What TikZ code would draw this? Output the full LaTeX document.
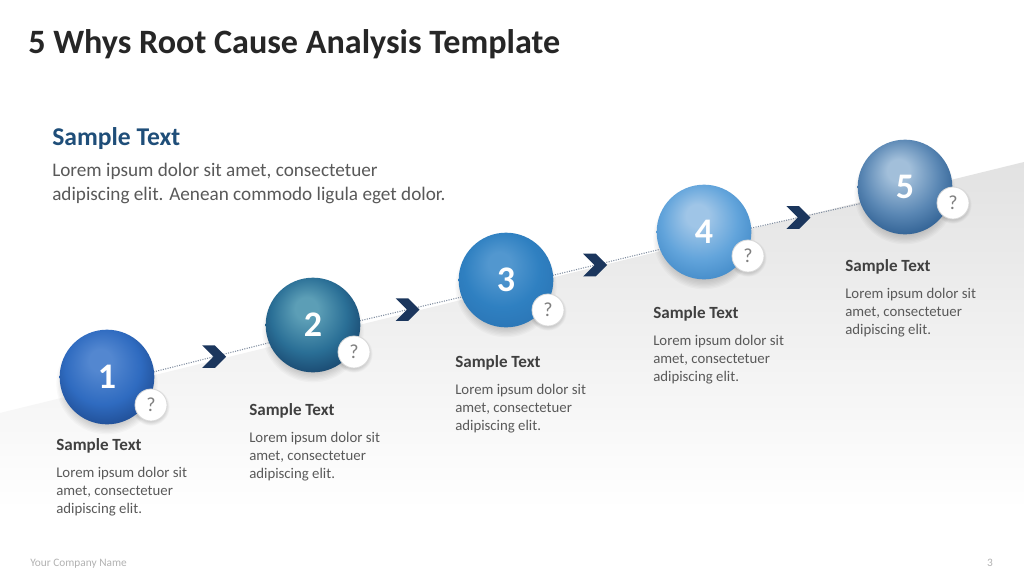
\documentclass[tikz,border=0pt]{standalone}
\usepackage{fontspec}
\setmainfont{Carlito}
\usetikzlibrary{positioning, shapes.symbols, backgrounds}

\definecolor{titlecol}{HTML}{262626}
\definecolor{navy}{HTML}{1F4E79}
\definecolor{txtgray}{HTML}{595959}
\definecolor{headgray}{HTML}{404040}
\definecolor{chevcol}{HTML}{1B365D}
\definecolor{linecol}{HTML}{7F8C9F}
\definecolor{bandgray}{HTML}{E2E2E2}
\definecolor{qgray}{HTML}{7F7F7F}
% ball colours: highlight, middle, rim
\definecolor{bhi1}{HTML}{5387D0}\definecolor{bmid1}{HTML}{2F6BC0}\definecolor{blo1}{HTML}{1A4283}
\definecolor{bhi2}{HTML}{5C9EB6}\definecolor{bmid2}{HTML}{2A6F96}\definecolor{blo2}{HTML}{133860}
\definecolor{bhi3}{HTML}{5297CF}\definecolor{bmid3}{HTML}{2F80C1}\definecolor{blo3}{HTML}{2A72B2}
\definecolor{bhi4}{HTML}{9FC5E7}\definecolor{bmid4}{HTML}{62A4DB}\definecolor{blo4}{HTML}{3882C2}
\definecolor{bhi5}{HTML}{A2BFDA}\definecolor{bmid5}{HTML}{5A87B4}\definecolor{blo5}{HTML}{1E5085}
\colorlet{ballhi}{bhi1}\colorlet{ballmid}{bmid1}\colorlet{balllo}{blo1}

\pgfdeclareradialshading[ballhi,ballmid,balllo]{ballshade}{\pgfpoint{-4bp}{10bp}}{%
  color(0bp)=(ballhi); color(6bp)=(ballhi); color(20bp)=(ballmid); color(34bp)=(balllo); color(45bp)=(balllo)}
\pgfdeclareverticalshading{bandshade}{100bp}{%
  color(0bp)=(white); color(33bp)=(white); color(75bp)=(bandgray); color(100bp)=(bandgray)}

\begin{document}
\begin{tikzpicture}[x=0.75pt, y=-0.75pt,
  ball/.style={circle, minimum size=71pt, inner sep=0pt, shading=ballshade, text=white,
    font=\bfseries\fontsize{27}{27}\selectfont},
  qmark/.style={circle, minimum size=24pt, inner sep=0pt, fill=white, draw=gray!30, line width=0.6pt,
    text=qgray, font=\fontsize{15}{15}\selectfont},
  head/.style={anchor=west, inner sep=0pt, font=\bfseries\fontsize{12.8}{15}\selectfont, text=headgray},
  body/.style={inner sep=0pt, align=left, font=\fontsize{11.1}{13.5}\selectfont, text=txtgray},
  link/.style={densely dotted, line width=0.8pt, draw=linecol},
  chev/.style={signal, signal to=east, signal from=west, fill=chevcol, draw=none,
    minimum width=18pt, minimum height=17pt, inner sep=0pt},
  softshade/.style={fill=black, opacity=0.025}
]
\useasboundingbox (0,0) rectangle (1024,576);

\begin{pgfonlayer}{background}
\fill[white] (0,0) rectangle (1024,576);
\shade[shading=bandshade] (0,413) -- (1024,162) -- (1024,576) -- (0,576) -- cycle;
\end{pgfonlayer}

% title and lead text
\node[anchor=base west, inner sep=0pt, font=\bfseries\fontsize{25.6}{30}\selectfont, text=titlecol] (title) at (28,53) {5 Whys Root Cause Analysis Template};
\node[anchor=base west, inner sep=0pt, font=\bfseries\fontsize{19.2}{22}\selectfont, text=navy] (lead) at (52,145) {Sample Text};
\node[body, font=\fontsize{14.4}{17.4}\selectfont, below=10.5pt of lead.south west, anchor=north west] (leadtxt)
  {Lorem ipsum dolor sit amet, consectetuer\\adipiscing elit. Aenean commodo ligula eget dolor.};

% the five balls
\foreach \i/\x/\y in {1/107/377, 2/313/325, 3/506/280, 4/704/232, 5/905/187}{
  \colorlet{ballhi}{bhi\i}\colorlet{ballmid}{bmid\i}\colorlet{balllo}{blo\i}
  \node[ball] (b\i) at (\x,\y) {\i};
}
\foreach \i/\x/\y in {1/151/405, 2/354/352, 3/548/310, 4/748/256, 5/953/203}
  \node[qmark] (q\i) at (\x,\y) {?};

% soft shadows, then the dotted path with chevrons
\begin{pgfonlayer}{background}
\foreach \i in {1,...,5}{
  \foreach \r in {38,37,...,29}
    \fill[softshade] ([yshift=-5pt]b\i.center) circle (\r pt);
  \foreach \r in {14,13.5,...,11}
    \fill[softshade] ([yshift=-1.5pt]q\i.center) circle (\r pt);
}
\foreach \a/\b/\p in {1/2/0.52, 2/3/0.49, 3/4/0.45, 4/5/0.47}
  \draw[link] ([yshift=-5pt]b\a.center) -- node[chev, pos=\p] (c\a) {} ([yshift=-5pt]b\b.center);
\end{pgfonlayer}

% captions
\foreach \i/\x/\y in {1/56/446, 2/249/411, 3/455/363, 4/653/314, 5/845/267}{
  \node[head] (h\i) at (\x,\y) {Sample Text};
  \node[body, below=9.8pt of h\i.south west, anchor=north west] (t\i)
    {Lorem ipsum dolor sit\\amet, consectetuer\\adipiscing elit.};
}

% footer
\node[anchor=base west, inner sep=0pt, font=\fontsize{8.5}{10}\selectfont, text=gray!60] (company) at (30,566) {Your Company Name};
\node[anchor=base east, inner sep=0pt, font=\fontsize{8.5}{10}\selectfont, text=gray!60] (page) at (993,566) {3};
\end{tikzpicture}
\end{document}
